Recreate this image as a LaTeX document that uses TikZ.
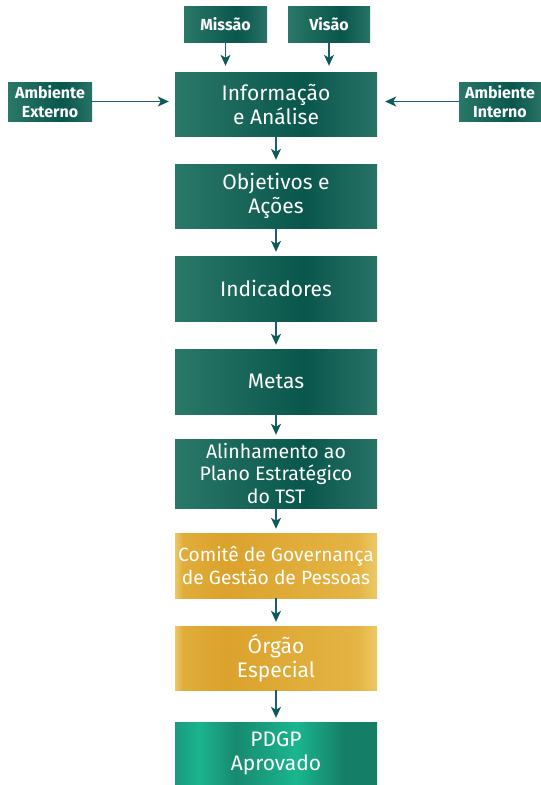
\documentclass[tikz,border=0pt]{standalone}
\usepackage{fontspec}
\setmainfont{Fira Sans}
\usetikzlibrary{arrows.meta}

\definecolor{tealL}{RGB}{42,120,104}
\definecolor{tealD}{RGB}{9,86,76}
\definecolor{tealR}{RGB}{40,114,102}
\definecolor{goldE}{RGB}{236,200,102}
\definecolor{goldA}{RGB}{224,173,58}
\definecolor{goldB}{RGB}{219,162,44}
\definecolor{goldC}{RGB}{228,180,68}
\definecolor{greenA}{RGB}{26,154,126}
\definecolor{greenB}{RGB}{27,180,143}
\definecolor{greenC}{RGB}{23,138,112}
\definecolor{greenD}{RGB}{26,182,144}
\definecolor{greenE}{RGB}{21,126,102}
\definecolor{arrline}{RGB}{28,92,122}
\definecolor{arrtip}{RGB}{13,90,86}

\pgfdeclarehorizontalshading{tealbar}{100bp}{color(0bp)=(tealL); color(25bp)=(tealL); color(57bp)=(tealD); color(75bp)=(tealR); color(100bp)=(tealR)}
\pgfdeclarehorizontalshading{goldbar}{100bp}{color(0bp)=(goldE); color(25bp)=(goldE); color(27bp)=(goldA); color(37bp)=(goldB); color(70bp)=(goldC); color(75bp)=(goldE); color(100bp)=(goldE)}
\pgfdeclarehorizontalshading{greenbar}{100bp}{color(0bp)=(greenA); color(25bp)=(greenA); color(31bp)=(greenB); color(40bp)=(greenC); color(55bp)=(greenD); color(67bp)=(greenE); color(75bp)=(greenE); color(100bp)=(greenE)}

\begin{document}
\begin{tikzpicture}[x=1pt, y=-1pt,
  box/.style={shade, shading=tealbar, minimum width=202pt, minimum height=64pt, inner sep=0pt, align=center, text=white, font=\fontsize{21}{24}\selectfont},
  goldbox/.style={box, shading=goldbar},
  greenbox/.style={box, shading=greenbar},
  lbl/.style={shade, shading=tealbar, inner sep=0pt, align=center, text=white, font=\bfseries\fontsize{16}{19}\selectfont},
  arr/.style={draw=arrline, line width=1.3pt, -{Stealth[length=11pt, width=10pt, inset=3pt, color=arrtip]}}]
  \useasboundingbox (0,0) rectangle (541,785);

  % entradas
  \node[lbl, minimum width=83pt, minimum height=36pt] (missao) at (225.5,24) {Missão};
  \node[lbl, minimum width=82pt, minimum height=36pt] (visao) at (329,24) {Visão};
  \node[lbl, minimum width=84pt, minimum height=39pt] (externo) at (50,101.5) {Ambiente\\Externo};
  \node[lbl, minimum width=82pt, minimum height=39pt] (interno) at (500,101.5) {Ambiente\\Interno};

  % fluxo principal
  \node[box] (info) at (276,104) {Informação\\e Análise};
  \node[box] (objetivos) at (276,196) {Objetivos e\\Ações};
  \node[box, minimum height=65pt] (indicadores) at (276,288.5) {Indicadores};
  \node[box, minimum height=65pt] (metas) at (276,381.5) {Metas};
  \node[box, minimum height=69pt, font=\fontsize{19.5}{22.5}\selectfont] (alinhamento) at (276,473.5) {Alinhamento ao\\Plano Estratégico\\do TST};
  \node[goldbox, minimum height=65pt, font=\fontsize{19.2}{23}\selectfont] (comite) at (276,565.5) {Comitê de Governança\\de Gestão de Pessoas};
  \node[goldbox] (orgao) at (276,658) {Órgão\\Especial};
  \node[greenbox, minimum height=62pt] (pdgp) at (276,753) {PDGP\\Aprovado};

  \draw[arr, shorten >=6pt] (missao.south) -- (missao.south |- info.north);
  \draw[arr, shorten >=6pt] (visao.south) -- (visao.south |- info.north);
  \draw[arr, shorten >=6pt] (externo.east) -- (externo -| info.west);
  \draw[arr, shorten >=8pt] (interno.west) -- (interno -| info.east);
  \foreach \a/\b in {info/objetivos, objetivos/indicadores, indicadores/metas, metas/alinhamento, alinhamento/comite, comite/orgao, orgao/pdgp}
    \draw[arr, shorten >=4pt] (\a.south) -- (\b.north);
\end{tikzpicture}
\end{document}
